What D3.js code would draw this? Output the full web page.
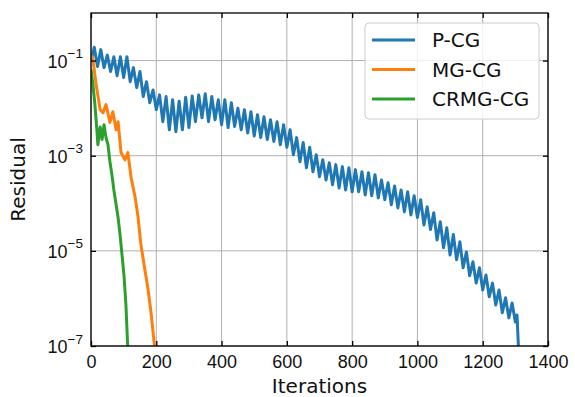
<!DOCTYPE html>
<html>
<head>
<meta charset="utf-8">
<script src="https://cdn.jsdelivr.net/npm/d3@7"></script>
<style>
  html, body { margin: 0; padding: 0; background: #fff; }
  svg { display: block; font-family: "DejaVu Sans", sans-serif; }
</style>
</head>
<body>
<svg id="chart" width="575" height="397"></svg>
<script>
// ---- data ----
const seriesNames = ["P-CG", "MG-CG", "CRMG-CG"];
const seriesColors = ["#1f77b4", "#ff7f0e", "#2ca02c"];

const pcgIter = [0,10,20,30,40,50,60,70,80,90,100,110,120,130,140,150,160,170,180,190,200,210,220,230,240,250,260,270,280,290,300,310,320,330,340,350,360,370,380,390,400,410,420,430,440,450,460,470,480,490,500,510,520,530,540,550,560,570,580,590,600,610,620,630,640,650,660,670,680,690,700,710,720,730,740,750,760,770,780,790,800,810,820,830,840,850,860,870,880,890,900,910,920,930,940,950,960,970,980,990,1000,1010,1020,1030,1040,1050,1060,1070,1080,1090,1100,1110,1120,1130,1140,1150,1160,1170,1180,1190,1200,1210,1220,1230,1240,1250,1260,1270,1280,1290,1300,1305,1310];
const pcgResidual = [9.5e-2,1.9e-1,7.5e-2,1.7e-1,7.1e-2,1.3e-1,5.9e-2,1.2e-1,4.8e-2,1.2e-1,4.4e-2,1.2e-1,3.6e-2,7.1e-2,2.7e-2,5.9e-2,1.75e-2,3.6e-2,1.3e-2,2.4e-2,9.3e-3,1.9e-2,5.2e-3,1.75e-2,3.5e-3,1.5e-2,3.2e-3,1.4e-2,3.5e-3,1.7e-2,3.9e-3,1.8e-2,5.2e-3,1.9e-2,6.3e-3,2.0e-2,5.2e-3,1.75e-2,5.7e-3,1.5e-2,4.5e-3,1.5e-2,3.9e-3,1.3e-2,4.1e-3,1.0e-2,3.5e-3,9.3e-3,3.0e-3,8.4e-3,2.6e-3,7.3e-3,2.4e-3,6.6e-3,2.2e-3,5.7e-3,2.0e-3,5.2e-3,1.7e-3,4.5e-3,1.5e-3,3.5e-3,1.05e-3,2.4e-3,7.5e-4,1.9e-3,5.6e-4,1.5e-3,4.6e-4,1.05e-3,3.6e-4,8.2e-4,3.1e-4,7.1e-4,2.45e-4,6.5e-4,2.1e-4,5.9e-4,1.9e-4,5.6e-4,1.75e-4,5.1e-4,1.75e-4,4.6e-4,1.5e-4,4.4e-4,1.44e-4,4.0e-4,1.3e-4,3.1e-4,1.19e-4,2.7e-4,9.3e-5,2.3e-4,8.0e-5,1.9e-4,6.6e-5,1.75e-4,5.7e-5,1.44e-4,5.0e-5,1.19e-4,3.5e-5,8.4e-5,2.8e-5,6.3e-5,1.7e-5,4.1e-5,1.16e-5,3.05e-5,8.2e-6,2.2e-5,6.5e-6,1.55e-5,4.4e-6,9.5e-6,3.0e-6,5.9e-6,2.1e-6,4.4e-6,1.5e-6,3.1e-6,1.08e-6,2.1e-6,7.3e-7,1.5e-6,5.0e-7,1.03e-6,3.9e-7,8.0e-7,3.2e-7,4.5e-7,8e-8];

const mgIter = [0,6,15,28,37,46,58,67,77,83,92,104,113,123,135,144,153,165,175,184,196];
const mgResidual = [1.3e-1,1.05e-1,3.4e-2,9.3e-3,8.0e-3,1.19e-2,5.0e-3,8.4e-3,3.5e-3,5.2e-3,1.16e-3,8.2e-4,1.16e-3,3.4e-4,1.37e-4,5.2e-5,1.34e-5,4.0e-6,1.5e-6,5.0e-7,8e-8];

const crmgIter = [0,6,12,18,21,28,34,40,46,52,58,64,70,77,83,89,95,101,107,113];
const crmgResidual = [6.5e-2,3.1e-2,1.19e-2,3.5e-3,1.7e-3,4.0e-3,2.2e-3,4.5e-3,2.4e-3,1.7e-3,7.5e-4,4.0e-4,1.9e-4,9.3e-5,5.0e-5,2.2e-5,8.2e-6,3.1e-6,7.3e-7,8e-8];

const xTicks = [0,200,400,600,800,1000,1200,1400];
const yTicks = [1e-7,1e-5,1e-3,1e-1];
const yTickExponents = ["−7","−5","−3","−1"];
const xLabel = "Iterations";
const yLabel = "Residual";

// ---- layout ----
const L = 91, R = 548, T = 13, B = 346;
const svg = d3.select("#chart");
const x = d3.scaleLinear().domain([0,1400]).range([L,R]);
const y = d3.scaleLog().domain([1e-7,1]).range([B,T]);

svg.append("defs").append("clipPath").attr("id","clip")
  .append("rect").attr("x",L).attr("y",T).attr("width",R-L).attr("height",B-T);

// grid
const grid = svg.append("g").attr("stroke","#b0b0b0").attr("stroke-width",1);
grid.selectAll("line.gx").data(xTicks).join("line")
  .attr("x1",d=>x(d)).attr("x2",d=>x(d)).attr("y1",T).attr("y2",B);
grid.selectAll("line.gy").data(yTicks).join("line")
  .attr("y1",d=>y(d)).attr("y2",d=>y(d)).attr("x1",L).attr("x2",R);

// series
const series = [
  {iter:pcgIter, val:pcgResidual},
  {iter:mgIter, val:mgResidual},
  {iter:crmgIter, val:crmgResidual}
];
const line = d3.line().x(d=>x(d[0])).y(d=>y(d[1]));
const plot = svg.append("g").attr("clip-path","url(#clip)");
series.forEach((s,i)=>{
  plot.append("path")
    .datum(s.iter.map((it,k)=>[it,s.val[k]]))
    .attr("fill","none").attr("stroke",seriesColors[i])
    .attr("stroke-width",3).attr("stroke-linejoin","round")
    .attr("d",line);
});

// axes (inward ticks on all sides)
const tickLen = 5;
const ax = svg.append("g").attr("font-family","DejaVu Sans, sans-serif");
const xb = ax.append("g").attr("transform",`translate(0,${B})`)
  .call(d3.axisBottom(x).tickValues(xTicks).tickSizeInner(-tickLen).tickSizeOuter(0).tickPadding(9).tickFormat(d3.format("d")));
const xt = ax.append("g").attr("transform",`translate(0,${T})`)
  .call(d3.axisTop(x).tickValues(xTicks).tickSizeInner(-tickLen).tickSizeOuter(0).tickFormat(""));
const yl = ax.append("g").attr("transform",`translate(${L},0)`)
  .call(d3.axisLeft(y).tickValues(yTicks).tickSizeInner(-tickLen).tickSizeOuter(0).tickPadding(8).tickFormat(()=>"10"));
const yr = ax.append("g").attr("transform",`translate(${R},0)`)
  .call(d3.axisRight(y).tickValues(yTicks).tickSizeInner(-tickLen).tickSizeOuter(0).tickFormat(""));
[xb,xt,yl,yr].forEach(g=>{
  g.select(".domain").remove();
  g.selectAll(".tick line").attr("stroke","#000").attr("stroke-width",1.3);
});
xb.selectAll(".tick text").attr("font-size",18).attr("fill","#111").attr("dy","0.71em");
yl.selectAll(".tick text").attr("font-size",18).attr("fill","#111").attr("dy","0.36em")
  .each(function(d,i){
    const t = d3.select(this);
    t.text("");
    t.append("tspan").text("10");
    t.append("tspan").attr("font-size",13.5).attr("dy","-0.7em").text(yTickExponents[i]);
  });

// frame
svg.append("rect").attr("x",L).attr("y",T).attr("width",R-L).attr("height",B-T)
  .attr("fill","none").attr("stroke","#000").attr("stroke-width",1.3);

// axis labels
svg.append("text").attr("x",(L+R)/2).attr("y",393).attr("text-anchor","middle")
  .attr("font-size",20).attr("fill","#111").text(xLabel);
svg.append("text").attr("transform",`translate(25,${(T+B)/2}) rotate(-90)`)
  .attr("text-anchor","middle").attr("font-size",20).attr("fill","#111").text(yLabel);

// legend
const lg = svg.append("g");
lg.append("rect").attr("x",365).attr("y",23).attr("width",174).attr("height",96)
  .attr("rx",4).attr("fill","#fff").attr("fill-opacity",0.8)
  .attr("stroke","#cccccc").attr("stroke-width",1);
seriesNames.forEach((n,i)=>{
  const cy = 40 + i*29.5;
  lg.append("line").attr("x1",372).attr("x2",415).attr("y1",cy).attr("y2",cy)
    .attr("stroke",seriesColors[i]).attr("stroke-width",3);
  lg.append("text").attr("x",432).attr("y",cy).attr("dy","0.36em")
    .attr("font-size",20).attr("fill","#111").text(n);
});
</script>
</body>
</html>
